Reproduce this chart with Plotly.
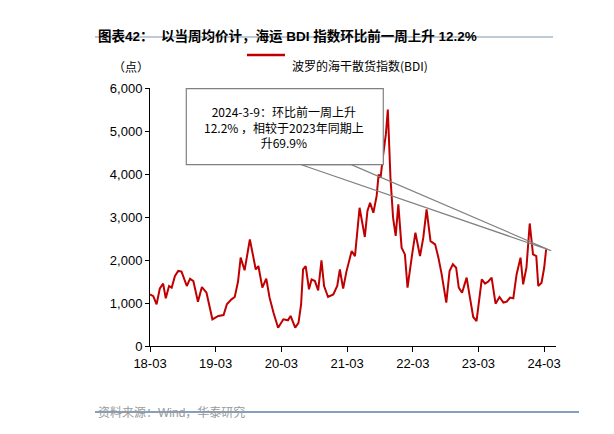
import plotly.graph_objects as go

# BDI weekly average (decimal year, index points)
years = [2018.17, 2018.22, 2018.27, 2018.32, 2018.37, 2018.41, 2018.46, 2018.50, 2018.55, 2018.60,
         2018.65, 2018.73, 2018.78, 2018.83, 2018.90, 2018.96, 2019.03, 2019.08, 2019.12, 2019.21,
         2019.29, 2019.34, 2019.41, 2019.46, 2019.51, 2019.55, 2019.61, 2019.69, 2019.78, 2019.82,
         2019.88, 2019.94, 2019.99, 2020.05, 2020.12, 2020.20, 2020.27, 2020.31, 2020.38, 2020.43,
         2020.47, 2020.50, 2020.54, 2020.59, 2020.63, 2020.68, 2020.73, 2020.78, 2020.82, 2020.88,
         2020.96, 2021.02, 2021.06, 2021.11, 2021.16, 2021.24, 2021.29, 2021.36, 2021.44, 2021.48,
         2021.52, 2021.57, 2021.62, 2021.65, 2021.68, 2021.72, 2021.76, 2021.79, 2021.83, 2021.87,
         2021.91, 2021.95, 2022.00, 2022.05, 2022.09, 2022.16, 2022.21, 2022.28, 2022.33, 2022.38,
         2022.44, 2022.51, 2022.56, 2022.61, 2022.68, 2022.73, 2022.78, 2022.83, 2022.87, 2022.92,
         2022.99, 2023.04, 2023.09, 2023.14, 2023.22, 2023.27, 2023.32, 2023.37, 2023.43, 2023.49,
         2023.55, 2023.60, 2023.65, 2023.70, 2023.75, 2023.81, 2023.85, 2023.90, 2023.95, 2024.00,
         2024.05, 2024.08, 2024.13, 2024.17, 2024.20]
bdi = [1200, 1160, 970, 1340, 1450, 1110, 1395, 1357, 1630, 1745,
       1730, 1395, 1565, 1510, 1030, 1370, 1240, 890, 620, 700,
       720, 970, 1085, 1140, 1500, 2055, 1760, 2480, 1780, 1860,
       1357, 1565, 1125, 775, 425, 620, 597, 700, 425, 540,
       970, 1780, 1860, 1320, 1550, 1510, 1295, 1990, 1395, 1140,
       1200, 1395, 1780, 1333, 1730, 2210, 2090, 3215, 2535, 3140,
       3330, 3100, 3490, 3990, 3915, 4457, 4920, 5500, 3915, 2985,
       2560, 3295, 2287, 2130, 1357, 2130, 2635, 2090, 2520, 3180,
       2440, 2365, 2055, 1665, 1010, 1745, 1900, 1820, 1357, 1240,
       1590, 1125, 675, 580, 1550, 1450, 1500, 1590, 985, 1140,
       1010, 1030, 1125, 1110, 1665, 2055, 1435, 1820, 2850, 2130,
       2090, 1395, 1470, 1820, 2250]

tick_vals = [2018.17, 2019.17, 2020.17, 2021.17, 2022.17, 2023.17, 2024.17]
tick_text = ["18-03", "19-03", "20-03", "21-03", "22-03", "23-03", "24-03"]

RED = "#c00000"
CJK = "Noto Sans CJK SC"
NUM = "Liberation Sans, Noto Sans CJK SC"


# pixel -> data helpers for the callout placement
def px_x(p):
    return 2018.17 + (p - 141.7) / 65.7


def px_y(p):
    return (338.3 - p) / 43.0 * 1000


fig = go.Figure()
fig.add_trace(go.Scatter(x=years, y=bdi, mode="lines",
                         line=dict(color=RED, width=2),
                         name="波罗的海干散货指数(BDI)", showlegend=False))

# callout wedge + box
tip = (px_x(543), px_y(243))
fig.add_shape(type="path", xref="x", yref="y",
              path=f"M {px_x(293)},{px_y(157)} L {tip[0]},{tip[1]} L {px_x(343)},{px_y(157)} Z",
              line=dict(color="#808080", width=1.2), fillcolor="rgba(255,255,255,0)")
fig.add_shape(type="rect", xref="x", yref="y",
              x0=px_x(178), x1=px_x(375), y0=px_y(157), y1=px_y(81),
              line=dict(color="#808080", width=1.2), fillcolor="white")
fig.add_annotation(x=px_x(276), y=px_y(119), xref="x", yref="y", showarrow=False,
                   text="2024-3-9：环比前一周上升<br>12.2% ，相较于2023年同期上<br>升69.9%",
                   font=dict(family=CJK, size=12, color="#000000"), align="center")

# title, unit, legend, source, rules (pixel positions, converted below)
fig.add_annotation(x=88, y=18, xref="paper", yref="paper", showarrow=False, xanchor="left",
                   text="<b>图表42：  以当周均价计，海运 BDI 指数环比前一周上升 12.2%</b>",
                   font=dict(family=NUM, size=13.5, color="#000000"))
fig.add_annotation(x=103, y=48, xref="paper", yref="paper", showarrow=False,
                   text="（点）", font=dict(family=CJK, size=12, color="#000000"))
fig.add_annotation(x=282, y=47, xref="paper", yref="paper", showarrow=False, xanchor="left",
                   text="波罗的海干散货指数(BDI)", font=dict(family=CJK, size=12, color="#000000"))
fig.add_shape(type="line", xref="paper", yref="paper", x0=239, x1=277, y0=47, y1=47,
              line=dict(color=RED, width=2.5))
fig.add_annotation(x=88, y=414, xref="paper", yref="paper", showarrow=False, xanchor="left",
                   text="资料来源：Wind，华泰研究", font=dict(family=NUM, size=12, color="#999999"))
fig.add_shape(type="line", xref="paper", yref="paper", x0=87, x1=545, y0=29, y1=29,
              line=dict(color="#a8b8c8", width=1.5))
fig.add_shape(type="line", xref="paper", yref="paper", x0=87, x1=571, y0=404, y1=404,
              line=dict(color="#5a82a8", width=1.5))
fig.add_shape(type="line", xref="paper", yref="paper", x0=600, x1=614, y0=404, y1=404,
              line=dict(color="#5a82a8", width=1.5))

# map paper refs to pixels
W, H = 614, 434
L, R, T, B = 142, 66, 80, 96
for a in fig.layout.annotations:
    if a.xref == "paper":
        a.x = (a.x - L) / (W - L - R)
        a.y = 1 - (a.y - T) / (H - T - B)
for s in fig.layout.shapes:
    if s.xref == "paper":
        s.x0 = (s.x0 - L) / (W - L - R)
        s.x1 = (s.x1 - L) / (W - L - R)
        s.y0 = 1 - (s.y0 - T) / (H - T - B)
        s.y1 = 1 - (s.y1 - T) / (H - T - B)

fig.update_layout(
    width=W, height=H,
    margin=dict(l=L, r=R, t=T, b=B, autoexpand=False),
    paper_bgcolor="white", plot_bgcolor="white",
    font=dict(family=NUM, size=13, color="#000000"),
    showlegend=False,
    xaxis=dict(range=[2018.17, 2024.35], tickvals=tick_vals, ticktext=tick_text,
               showgrid=False, zeroline=False, showline=True, linecolor="#000000",
               ticks="outside", ticklen=5, tickcolor="#000000"),
    yaxis=dict(range=[0, 6000], tickvals=[0, 1000, 2000, 3000, 4000, 5000, 6000],
               tickformat=",d", showgrid=False, zeroline=False, showline=True,
               linecolor="#000000", ticks="outside", ticklen=4, tickcolor="#000000"),
)
fig.write_html("out.html")
